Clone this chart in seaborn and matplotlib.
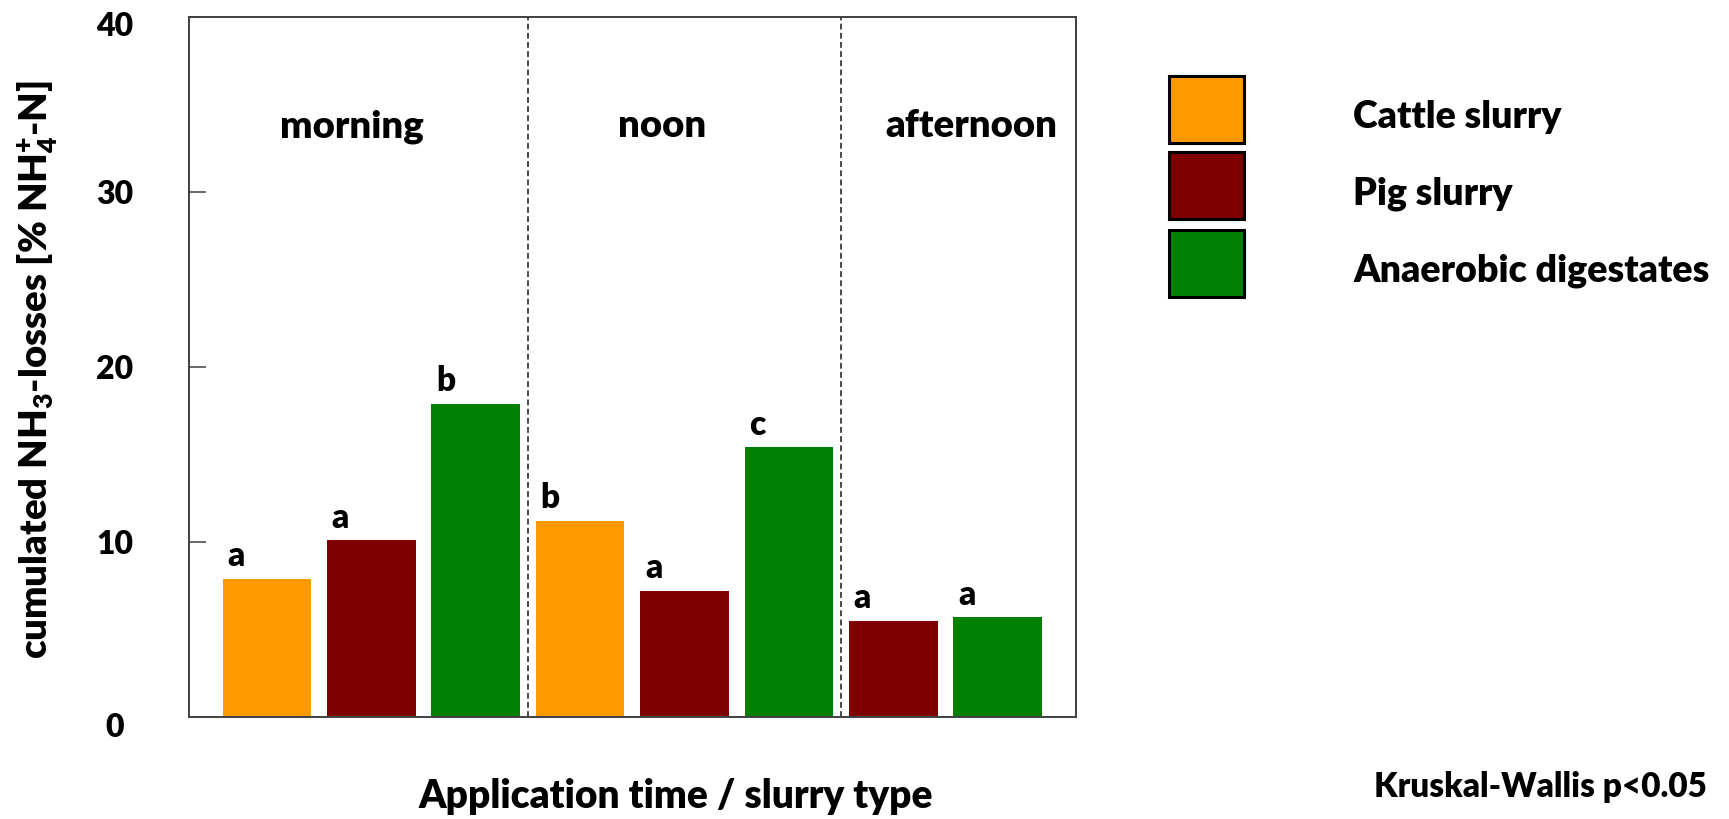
import numpy as np
import pandas as pd
import matplotlib
matplotlib.use("Agg")
import matplotlib.pyplot as plt
import matplotlib.patches as mpatches
import matplotlib.transforms as mtransforms
from matplotlib.legend_handler import HandlerPatch
import seaborn as sns

# ---- data -------------------------------------------------------------
times = ["morning", "morning", "morning",
         "noon", "noon", "noon",
         "afternoon", "afternoon"]
slurries = ["Cattle slurry", "Pig slurry", "Anaerobic digestates",
            "Cattle slurry", "Pig slurry", "Anaerobic digestates",
            "Pig slurry", "Anaerobic digestates"]
losses = [7.9, 10.1, 17.9, 11.2, 7.2, 15.4, 5.5, 5.7]
letters = ["a", "a", "b", "b", "a", "c", "a", "a"]

slurry_types = ["Cattle slurry", "Pig slurry", "Anaerobic digestates"]
slurry_colors = ["#FF9900", "#800000", "#008000"]
time_labels = ["morning", "noon", "afternoon"]
y_ticks = [0, 10, 20, 30, 40]

# ---- style ------------------------------------------------------------
WEIGHT = 800
sns.set_theme(style="white")
plt.rcParams["font.family"] = ["Lato", "DejaVu Sans"]
plt.rcParams["font.weight"] = WEIGHT
plt.rcParams["text.color"] = "black"
plt.rcParams["axes.labelcolor"] = "black"
plt.rcParams["ytick.color"] = "black"
plt.rcParams["mathtext.fontset"] = "custom"
plt.rcParams["mathtext.rm"] = "Lato:heavy"
plt.rcParams["mathtext.bf"] = "Lato:heavy"
plt.rcParams["mathtext.it"] = "Lato:heavy"

df = pd.DataFrame({
    "time": times,
    "slurry": slurries,
    "loss": losses,
    "letter": letters,
})
df["slot"] = df["time"] + " / " + df["slurry"]
slot_order = list(df["slot"])

fig = plt.figure(figsize=(17.29, 8.19), dpi=100)
W, H = 1729, 819
ax = fig.add_axes([188.6 / W, 1 - 717 / H, (1076 - 188.6) / W, (717 - 16.5) / H])

sns.barplot(data=df, x="slot", y="loss", hue="slurry",
            order=slot_order, hue_order=slurry_types,
            palette=dict(zip(slurry_types, slurry_colors)),
            dodge=False, width=0.85, saturation=1, edgecolor="none",
            errorbar=None, ax=ax)

ax.set_xlim(-0.75, 7.75)
ax.set_ylim(0, 40)
ax.set_yticks(y_ticks)
ax.set_xticks([])

spine_col = "#404040"
for s in ax.spines.values():
    s.set_color(spine_col)
    s.set_linewidth(1.4)
    s.set_visible(True)

ax.tick_params(axis="y", direction="in", length=12, width=1.1,
               color=spine_col, labelcolor="black", pad=53, labelsize=23,
               left=True)
for lab in ax.get_yticklabels():
    lab.set_horizontalalignment("center")
    lab.set_fontweight(WEIGHT)
# the end labels sit a little below their ticks
for tick, val in zip(ax.yaxis.get_major_ticks(), y_ticks):
    if val in (0, 40):
        shift = mtransforms.ScaledTranslation(0, -0.08, fig.dpi_scale_trans)
        tick.label1.set_transform(tick.label1.get_transform() + shift)

# group separators
for xs in [2.5, 5.5]:
    ax.axvline(xs, color="#2a2a2a", lw=1.2, ls=(0, (3.5, 2)), zorder=1)

# application-time headers
for xt, name in zip([0.81, 3.79, 6.75], time_labels):
    ax.text(xt, 33.1, name, ha="center", va="baseline",
            fontsize=27.5, fontweight=WEIGHT, color="black")

# significance letters above the bars
bars = [p for p in ax.patches if p.get_height() > 0]
bars = sorted(bars, key=lambda p: p.get_x())
for bar, letter in zip(bars, df["letter"]):
    ax.annotate(letter, xy=(bar.get_x(), bar.get_height()),
                xytext=(3.5, 9), textcoords="offset points",
                ha="left", va="baseline", fontsize=24,
                fontweight=WEIGHT, color="black")

ax.set_ylabel(r"cumulated NH$_\mathbf{3}$-losses [% NH$_\mathbf{4}^\mathbf{+}$-N]",
              fontsize=27.5, fontweight=WEIGHT, color="black", va="center")
ax.yaxis.set_label_coords((38 - 188.6) / (1076 - 188.6), (717 - 370) / 700.5)

ax.set_xlabel("Application time / slurry type", fontsize=28,
              fontweight=WEIGHT, color="black", va="baseline")
ax.xaxis.set_label_coords((676 - 188.6) / (1076 - 188.6), (717 - 808) / 700.5)

fig.text(1707 / W, 1 - 797 / H, "Kruskal-Wallis p<0.05", ha="right",
         va="baseline", fontsize=24, fontweight=WEIGHT, color="black")

# legend: large framed colour boxes, labels set slightly low
fs = 27
fs_px = fs * 100 / 72
box_h_pt = 67 * 72 / 100
below_base_pt = 14.6 * 72 / 100


def box_patch(legend, orig_handle, xdescent, ydescent, width, height, fontsize):
    return mpatches.Rectangle((-xdescent, -below_base_pt), width, box_h_pt)


row_pitch_pt = 78.5 * 72 / 100
sns.move_legend(ax, "upper left",
                bbox_to_anchor=(1169 / W, 1 - 98.6 / H),
                bbox_transform=fig.transFigure,
                frameon=False, title=None,
                prop={"family": ["Lato", "DejaVu Sans"], "weight": WEIGHT, "size": fs},
                handlelength=75 / fs_px, handleheight=1.0,
                labelspacing=(row_pitch_pt - fs) / fs,
                handletextpad=109 / fs_px,
                borderpad=0, borderaxespad=0,
                handler_map={mpatches.Rectangle: HandlerPatch(patch_func=box_patch)})
leg = ax.get_legend()
for h in leg.legend_handles:
    h.set_edgecolor("black")
    h.set_linewidth(2.2)
for t in leg.get_texts():
    t.set_color("black")

fig.savefig("out.png", dpi=100, facecolor="white")
